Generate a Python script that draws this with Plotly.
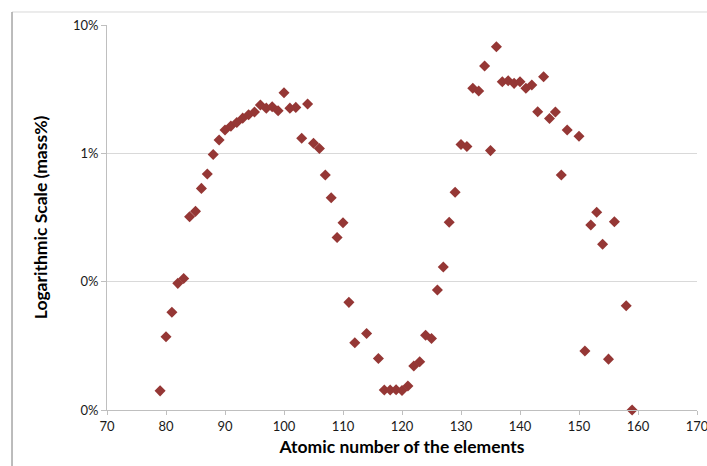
import plotly.graph_objects as go

atomic_number = [79, 80, 81, 82, 83, 84, 85, 86, 87, 88, 89, 90, 91, 92, 93, 94, 95, 96, 97, 98, 99,
                 100, 101, 102, 103, 104, 105, 106, 107, 108, 109, 110, 111, 112, 114, 116, 117, 118,
                 119, 120, 121, 122, 123, 124, 125, 126, 127, 128, 129, 130, 131, 132, 133, 134, 135,
                 136, 137, 138, 139, 140, 141, 142, 143, 144, 145, 146, 147, 148, 150, 151, 152, 153,
                 154, 155, 156, 158, 159]
mass_percent = [0.0141, 0.0372, 0.0577, 0.097, 0.106, 0.32, 0.353, 0.533, 0.69, 0.98, 1.27, 1.52,
                1.63, 1.74, 1.88, 2.0, 2.1, 2.38, 2.25, 2.31, 2.15, 2.97, 2.25, 2.28, 1.31, 2.42, 1.2,
                1.09, 0.678, 0.451, 0.221, 0.288, 0.069, 0.0334, 0.0395, 0.0252, 0.0143, 0.0143,
                0.0144, 0.0142, 0.0154, 0.022, 0.0238, 0.0383, 0.0361, 0.086, 0.13, 0.29, 0.497, 1.17,
                1.13, 3.21, 3.06, 4.79, 1.05, 6.78, 3.61, 3.68, 3.51, 3.61, 3.21, 3.41, 2.11, 3.95,
                1.87, 2.1, 0.678, 1.52, 1.36, 0.0288, 0.276, 0.347, 0.196, 0.0249, 0.293, 0.0649,
                0.01]

y_tick_vals = [0.01, 0.1, 1, 10]
y_tick_text = ["0%", "0%", "1%", "10%"]
x_tick_vals = [70, 80, 90, 100, 110, 120, 130, 140, 150, 160, 170]

FONT = "Lato, 'Open Sans', sans-serif"

fig = go.Figure()
fig.add_trace(go.Scatter(
    x=atomic_number, y=mass_percent, mode="markers",
    marker=dict(symbol="diamond", size=8.5, color="#953735", line=dict(width=0)),
    showlegend=False, cliponaxis=False,
))

fig.update_layout(
    width=707, height=466,
    margin=dict(l=107, r=10, t=25, b=56),
    paper_bgcolor="white", plot_bgcolor="white",
    font=dict(family=FONT, size=13, color="#1a1a1a"),
    xaxis=dict(
        range=[70, 170], tickvals=x_tick_vals, ticks="outside", ticklen=4,
        tickcolor="#bfbfbf", showline=True, linecolor="#bfbfbf", linewidth=1,
        showgrid=False, zeroline=False, automargin=False, ticklabeloverflow="allow",
        tickfont=dict(family=FONT, size=13, color="#1a1a1a"),
        title=dict(text="<b>Atomic number of the elements</b>",
                   font=dict(family=FONT, size=17.5, color="#000000"), standoff=8),
    ),
    yaxis=dict(
        type="log", range=[-2, 1], tickvals=y_tick_vals, ticktext=y_tick_text,
        ticks="outside", ticklen=5, tickcolor="#bfbfbf",
        showline=True, linecolor="#bfbfbf", linewidth=1,
        showgrid=True, gridcolor="#d9d9d9", gridwidth=1, zeroline=False, automargin=False,
        tickfont=dict(family=FONT, size=13, color="#1a1a1a"),
        title=dict(text="<b>Logarithmic Scale (mass%)</b>",
                   font=dict(family=FONT, size=17.5, color="#000000"), standoff=20),
    ),
    shapes=[
        dict(type="line", xref="paper", yref="paper", x0=-0.161, x1=1.2, y0=1.0338, y1=1.0338,
             line=dict(color="#d9d9d9", width=1)),
        dict(type="line", xref="paper", yref="paper", x0=-0.161, x1=-0.161, y0=1.0338, y1=-0.3,
             line=dict(color="#a6a6a6", width=1.5)),
    ],
)

fig.write_html("out.html", config={"displayModeBar": False},
               post_script="document.body.style.margin='0';document.body.style.overflow='hidden';")
